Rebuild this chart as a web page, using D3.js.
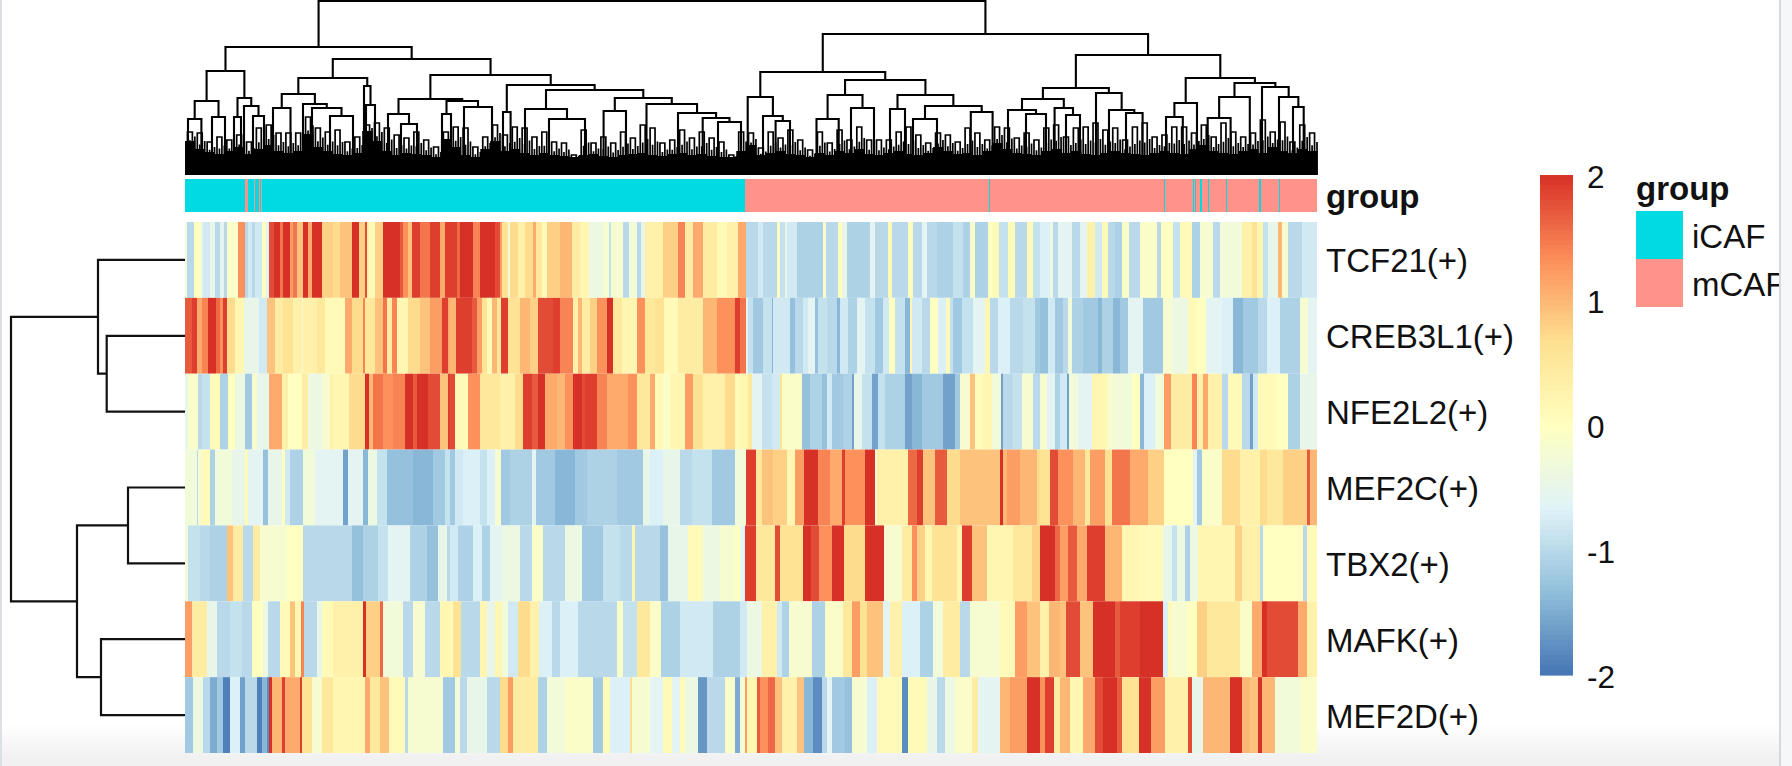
<!DOCTYPE html>
<html><head><meta charset="utf-8">
<script src="https://cdn.jsdelivr.net/npm/d3@7"></script>
<style>html,body{margin:0;padding:0;background:#fff;overflow:hidden}svg{display:block}text{font-family:"Liberation Sans",Arial,sans-serif;fill:#111}</style>
</head><body><svg id="c" width="1792" height="766"></svg>
<script>
const NCOL = 1132;
const rowNames = ["TCF21(+)","CREB3L1(+)","NFE2L2(+)","MEF2C(+)","TBX2(+)","MAFK(+)","MEF2D(+)"];
const legendTicks = [2,1,0,-1,-2];
const groupLabels = ["iCAF","mCAF"];
const groupColors = ["#00DAE0","#FF9289"];
const palette = ["#4575B4","#91BFDB","#E0F3F8","#FFFFBF","#FEE090","#FC8D59","#D73027"];
const paletteStops = [-2,-1.33,-.67,0,.67,1.33,2];
// where each sample block of a row begins
const chunkStarts = [-185,265,555,855];
// [end, value, end, value ...] per row and block
const tcf21A=[562,-.3,582,-1,603,0,610,-.5,630,-.8,645,-.5,660,-1,672,-.6,682,-1,715,-.1,735,1.3,745,-1,755,-.8,765,-1,785,-.8,798,0,807,-.6,822,1.8,840,2,850,1.5,870,2,880,1.2,892,1.5,908,.9,925,2,935,1.1,965,2,1000,.8,1020,.7,1056,.9,1078,2,1095,.8,1100,1.8,1108,.3,1125,.1,1148,.8,1200,2,1210,1.7,1225,1.3,1235,.9,1260,1.9,1290,1.5,1320,1.9,1336,1.1,1350,1.9,1360,1.5,1380,2];
const tcf21B=[20,1.9,30,1.6,70,2,90,1.4,135,2,150,1.8,155,1.2,175,.6,180,-.3,205,.7,225,.3,250,.7,258,1.1,275,.5,290,.1,330,.8,365,1,390,.4,418,.2,460,-.4,478,-.2,483,-.9,518,-.2,538,-1,560,-.3,572,-1,585,-.5,640,.3,685,.8,705,1.4,730,.4,760,1.1,800,.4,830,.1,863,.3,885,1.1,900,-1,910,-.9,960,-1];
const tcf21C=[17,1.1,55,-1,70,-.8,112,-1,120,0,135,-.9,140,-.5,170,-.8,250,-1.1,258,-.1,295,-1,305,0,320,-.5,390,-1.1,405,-.6,445,-1,455,.1,505,-1,520,0,545,-1,560,-.6,590,-1,640,-1.1,670,-.9,690,-1.1,705,-.1,745,-1.1,760,0,778,.1,805,-.9,825,.1,860,-1,878,.1,930,-.9,938,-.2,960,-1];
const tcf21D=[30,-.7,40,-.4,55,-1,95,-.6,120,-1,140,-.6,165,.3,185,-.8,205,.1,225,-1,245,-1.1,268,-.1,300,-1,350,-.1,362,-1,400,0,420,-.9,455,.1,480,-1.1,518,-.2,540,-1,605,-.3,635,.3,650,.6,668,.2,685,-.9,715,-.5,725,1,745,-.2,785,-1,830,-.8];
const creb3l1A=[575,1.7,590,1.9,605,1.1,625,1.4,648,2,660,1.6,668,1.3,682,1.9,705,.7,732,.2,778,-.5,802,-.8,825,.9,850,.4,880,.6,905,.3,908,-.3,950,.3,975,.5,1035,.1,1056,1.1,1090,.7,1095,1.4,1125,.5,1150,.9,1162,1.5,1175,.4,1190,1.4,1225,.2,1260,.7,1290,.9,1325,1.2,1345,1.9,1368,1.1,1380,1.9];
const creb3l1B=[18,1,65,1.9,80,1.7,95,1.2,110,.6,125,.1,140,1,153,.5,175,1.9,210,.6,240,1,265,.8,310,1.8,330,1.9,368,1.4,385,.3,395,1,420,.4,440,.8,470,1.3,490,2,515,.5,560,.2,585,1.3,615,.5,643,.6,685,.1,760,.4,800,1,855,1.3,870,1.9,885,1.4,905,-.6,935,-1,950,-1.3,960,-.7];
const creb3l1C=[17,1.5,25,-.6,40,-.9,70,-1.2,95,-.9,100,-1.4,150,-.8,165,-1.3,190,-1,205,-.8,225,-.6,235,-1.3,260,-.9,290,-1,300,-1.4,325,-.8,350,-1.1,375,-.6,405,-.9,430,-1.2,448,-.8,465,0,495,-.9,510,-1.4,517,.2,545,-.8,570,-1,595,0,618,-.7,630,.1,640,-.9,665,-1.2,700,-.9,735,-.6,750,.2,775,-1,810,-.7,850,-1,885,-.9,905,-1.2,930,-1.1,960,-1];
const creb3l1D=[25,-1.3,45,-.8,70,-1.2,85,-1,95,-.3,130,-1.1,175,-1.2,185,-1.4,220,-1.1,240,-1.4,265,-1.2,310,-.6,370,-1.2,395,-.2,445,-.4,470,.1,497,0,545,-.6,580,-.7,610,-1.4,655,-1.2,680,-1,720,-.7,780,-1.1,805,-.2,830,-.6];
const nfe2l2A=[565,-.5,595,-.1,605,-1,630,-.9,660,.1,685,-1.1,705,0,735,-.4,755,-1.2,770,-.2,808,-.5,845,1.1,865,.3,905,0,925,.4,965,-.4,990,-.2,1000,.3,1048,.2,1095,.7,1108,2,1120,1,1148,1.5,1180,1.3,1215,1.4,1240,2,1250,1.7,1285,2,1320,1.8,1345,.9,1365,1.9,1380,.3];
const nfe2l2B=[15,1.8,55,.1,90,1.3,150,.5,195,.3,220,.7,245,1.9,265,1.7,285,2,320,1.1,345,1,370,1.3,395,2,405,1.8,440,1.9,470,1.4,535,1.1,560,1.3,600,.5,615,1.1,640,.1,660,-.1,705,.2,730,1.2,760,.6,825,.3,855,.7,895,.1,907,.3,935,-.6,960,-1];
const nfe2l2C=[25,.2,37,.5,65,-.6,95,-.9,120,-.8,125,.6,185,-.1,210,-1.3,245,-1.1,260,-1.3,275,-.8,310,-1.2,335,-1.1,342,-1.6,365,-.5,395,-.9,415,-1.6,435,-.9,495,-1.1,515,-1.6,545,-1.4,610,-1.2,645,-1.6,660,-1.2,690,-.2,705,.9,730,.1,755,.2,782,-.3,790,-1.6,820,-1,845,-.9,880,-.2,920,-1,940,-.6,960,-1.1];
const nfe2l2D=[20,-.2,45,-.6,60,-1.1,80,-.8,88,-1.6,115,-.3,155,-.6,200,.2,220,-.2,275,-.3,300,0,312,-1.4,345,-.7,372,-.3,392,1.2,455,.4,470,1.4,490,.3,505,1.1,545,.3,565,-1,605,.1,630,-1,640,-1.6,655,-.8,710,.1,745,0,780,-1.1,830,-.5];
const mef2cA=[590,-.3,595,-1,605,-.2,630,.1,645,-1.1,695,-.3,735,-.5,745,.1,790,-.6,805,-1.3,845,-.5,855,0,870,-.8,910,-1.1,945,-.3,1030,-.6,1045,-1.6,1090,-.6,1105,-1.4,1130,-.4,1160,-.9,1240,-1.3,1300,-1.4,1335,-1.2,1365,-.9,1380,-1.1];
const mef2cB=[15,-1.2,40,-.8,90,-.7,110,-.9,135,-.7,152,-.2,180,-1.2,245,-1.1,258,-.6,315,-1.2,375,-1.4,410,-1.2,500,-1.1,580,-1.2,600,-.5,640,-.7,690,-.5,725,-1,785,-.9,855,-1.2,885,-.3,895,1.3,918,1.9,940,.3,960,.9];
const mef2cC=[17,-.3,48,1.9,65,.5,100,.9,140,.8,165,.2,193,1.2,235,2,270,1.4,305,1.1,315,1.9,375,1.3,405,2,412,-.2,505,.3,530,1.6,550,1.9,585,.9,620,1.7,660,.7,780,.9,790,2,800,1,840,1.2,890,1,940,.7,960,2];
const mef2cD=[30,.6,55,1.8,100,1.3,135,1,150,.5,195,1.2,215,.6,270,1.5,325,1.1,372,.8,460,0,472,-.6,487,-1.2,545,-.1,600,.7,660,.3,680,.7,730,.5,800,.8,810,1.7,830,1];
const tbx2A=[565,-.3,600,-.9,630,-1,680,-1.1,700,.9,730,.4,760,-1,780,.4,860,-.2,910,0,1055,-1,1090,-1.3,1135,-1.1,1165,-.9,1230,-.6,1280,-1.1,1315,-1.3,1340,-.5,1380,-1];
const tbx2B=[25,-.8,70,-1.1,95,-.7,120,-1.1,155,-.6,210,-.4,245,-1,280,-.1,345,-1,395,-.4,460,-1.2,510,-.9,545,-1,555,.2,630,-1,655,-1.3,715,-.5,760,.1,810,-.4,855,-.2,875,0,885,-1,905,2,918,1.7,960,.5];
const tbx2C=[15,-.6,48,1.9,105,.5,120,1.8,190,.6,212,2,238,1.8,275,1.3,312,2,375,.7,433,2,485,-.2,515,.4,530,1.3,555,.8,575,.2,650,.6,665,.2,697,1.9,740,.9,820,.2,875,.5,905,.8,960,1.9];
const tbx2D=[45,2,60,1.6,85,1.2,110,1.7,140,1.1,195,1.9,245,1,295,.2,370,.1,395,-.5,410,-.9,435,-.4,450,-1.1,475,-.4,585,.2,605,.8,660,.3,670,-1,790,0,800,-1,830,.1];
const mafkA=[575,1.2,620,.4,650,-.5,690,-1,725,-.9,755,-1,790,0,805,-.4,840,-1,870,.1,885,.9,903,.2,913,1.4,950,-1,965,-.5,1000,.1,1090,.3,1097,2,1140,.8,1150,1.6,1210,-.3,1240,-1,1275,-.2,1320,-1,1380,.2];
const mafkB=[10,.1,33,.6,90,-1,110,.2,135,-.5,155,.2,175,-.3,205,-.8,240,.7,268,.3,305,-.7,330,-1,385,-.7,500,-1,520,-.1,562,-.9,600,.5,632,-.1,690,-1.1,790,-.8,885,-1.1,895,-.6,920,-.1,938,-.3,960,.4];
const mafkC=[22,-.8,65,-.4,110,.3,125,-.8,148,-1.1,215,-.2,255,-1.1,310,-.1,335,.5,360,1.2,380,.6,430,.9,450,-.6,485,.3,540,-.7,580,-1.1,610,-.3,660,.4,690,-1,780,-.2,825,.1,860,1.2,900,.9,930,.3,960,1.2];
const mafkD=[28,.3,60,1,78,.9,120,1.8,160,.9,225,2,240,1.7,300,1.9,370,2,385,-.7,395,.1,440,-.2,470,0,500,.8,600,.5,635,-.1,665,1.1,680,2,775,1.8,800,1.1,830,.3];
const mef2dA=[580,-1.2,610,-.4,630,-1,650,-1.5,670,-1.2,690,-1.9,720,-.7,735,-1.6,770,-1,785,-1.9,800,-1.4,808,-1.8,816,2,845,1,855,1.9,900,1.1,905,1.9,935,.6,965,-.2,1000,.5,1095,.2,1110,1.1,1140,.5,1168,.9,1215,.1,1225,-1,1330,-.2,1370,-1.2,1380,-.9];
const mef2dB=[15,-1.2,30,-.3,50,-1,110,-.5,150,-1,175,.7,190,1.2,265,.4,290,-1.1,345,-.3,430,-.1,460,-1.2,480,.1,540,-.7,545,.7,600,-.2,640,-.6,665,.1,690,-.6,705,.1,745,-.4,770,-1.7,825,-1,855,-.1,870,-1.5,885,-.3,920,.6,930,1.8,960,1.5];
const mef2dC=[15,-.3,22,1.2,50,.2,60,1.7,85,1.3,105,1.6,125,.9,170,.3,193,.9,220,-1.4,245,-1.8,260,-1,275,-.6,315,-1.2,335,-1.3,380,-.2,410,-.7,485,.1,503,-1.8,560,.1,590,-.5,615,-1,645,-.4,695,-.1,715,.4,780,-.6,810,1,860,1.2,900,2,920,1.2,943,1.9,960,.4];
const mef2dD=[15,1.3,42,1.9,60,.4,90,1,130,.2,165,1.1,188,1.8,230,2,245,1.7,298,.6,333,2,375,1.2,445,.3,455,1.8,490,-.5,570,1,605,2,630,1,655,.9,665,2,705,1,780,-.3,830,-.1];
const rowChunks = [[tcf21A,tcf21B,tcf21C,tcf21D],[creb3l1A,creb3l1B,creb3l1C,creb3l1D],[nfe2l2A,nfe2l2B,nfe2l2C,nfe2l2D],[mef2cA,mef2cB,mef2cC,mef2cD],[tbx2A,tbx2B,tbx2C,tbx2D],[mafkA,mafkB,mafkC,mafkD],[mef2dA,mef2dB,mef2dC,mef2dD]];
// [last column, group index] runs of the annotation bar
const groupRuns=[60,0,63,1,69,0,70,1,74,0,75,1,76,0,77,1,560,0,804,1,805,0,979,1,980,0,1008,1,1009,0,1010,1,1011,0,1015,1,1017,0,1023,1,1024,0,1041,1,1042,0,1074,1,1076,0,1094,1,1095,0,1132,1];
// column dendrogram: [height, left, right], a bare number is a lower branch at that column
const colTree=[174,
 [128,
  [104,
   [74,[56,3,16.4],[58,27,40]],
   [77,[58,49,56],[69,59,[59,68,79]]]],
  [116,
   [97,
    [81,[67,88,105.5],[71,118,[67,127,[59,145,168]]]],
    [89,179,[70,181,190]]],
   [100,
    [76,[61,203,[51,216,232]],[74,[61,257,266],[68,279,307]]],
    [90,[63,318,325.6],
     [85,
      [66,340,[56,364,400]],
      [77,[64,418.6,441],[71,461.5,[62,493,[57,517.7,[53,533,556]]]]]]]]]],
 [141,
  [103,
   [78,562.7,[59,578,[54,590.6,605]]],
   [95,
    [80,[56,631.5,653.7],[67,666,689]],
    [80,[66,705,720],[69,[56,728,752],[63,785.8,807.6]]]]],
  [120,
   [87,
    [76,[65,823,[61,841,861]],[67,869.6,[60,881,895]]],
    [82,911,[65,924,[62,941,957.6]]]],
   [97,
    [72,[58,981,997.8],1012],
    [92,
     [78,[57,1022.7,1045.6],1064.8],
     [88,1077,[78,1094,[68,1108,1118.7]]]]]]]];
// heights of the small end loops, left to right
const tipHeights=[43,42,33,38,35,40,33,47,50,42,42,42,58,47,43,45,33,38,50,52,47,40,37,43,35,28,43,48,47,28,38,50,40,48,47,38,43,33,32,20,45,32,38,32,43,37,50,47,32,35,45,37,43,37,33,20,43,
 42,27,43,37,45,35,25,43,32,45,35,48,35,35,35,43,48,40,32,42,40,33,47,42,35,48,47,37,42,35,47,50,38,47,48,52,45,47,35,48,52,38,40,48,48,42,50,38,52,43,38,42,55,43,53,33,50,42];
// height of the solid black mass, left to right
const massHeights=[34,26,23,21,24,28,21,26,30,24,22,24,41,28,24,21,20,22,44,34,24,20,22,21,20,18,36,28,20,18,26,34,24,26,22,20,22,20,19,18,20,21,19,18,20,21,22,20,19,21,22,20,21,19,18,18,24,
 30,20,22,24,21,20,18,22,20,24,22,26,21,20,22,24,21,20,22,28,24,21,22,20,24,32,26,22,21,20,24,26,22,24,21,20,22,24,22,21,20,22,24,22,21,26,30,24,22,21,24,26,22,28,24,22,26,24];
// row dendrogram: [height, upper, lower], a bare number is a row index
const rowTree=[174,[87,0,[78.3,1,2]],[108,[57,3,4],[84,5,6]]];

const svg=d3.select("#c");
const defs=svg.append("defs");
const bg=defs.append("linearGradient").attr("id","fade").attr("x1",0).attr("x2",0).attr("y1",0).attr("y2",1);
bg.append("stop").attr("offset",0).attr("stop-color","#fff");
bg.append("stop").attr("offset",1).attr("stop-color","#f1f1f1");
svg.append("rect").attr("x",0).attr("y",724).attr("width",1792).attr("height",34).attr("fill","url(#fade)");
svg.append("rect").attr("x",0).attr("y",757).attr("width",1792).attr("height",9).attr("fill","#f1f1f1");

const color=d3.scaleLinear().domain(paletteStops).range(palette).clamp(true);
const xCol=d3.scaleBand().domain(d3.range(NCOL)).range([185,1317]);
const xPos=d3.scaleLinear().domain([0,NCOL]).range([185,1317]);
const yRow=d3.scaleBand().domain(rowNames).range([222,753]);

function expand(chunks){
  const v=new Array(NCOL).fill(0);
  chunks.forEach((c,i)=>{
    let s=i===0?555:0;
    for(let k=0;k<c.length;k+=2){
      const from=Math.max(0,Math.round(chunkStarts[i]+s/3)),to=Math.min(NCOL,Math.round(chunkStarts[i]+c[k]/3));
      for(let q=from;q<to;q++)v[q]=c[k+1];
      s=c[k];
    }
  });
  return v;
}
function runs(v){
  const out=[];let st=0;
  for(let i=1;i<=v.length;i++)if(i===v.length||v[i]!==v[st]){out.push({start:st,len:i-st,value:v[st]});st=i;}
  return out;
}
const blurG=svg.append("g").style("filter","blur(0.55px)");
rowNames.forEach((name,r)=>{
  blurG.append("g").selectAll("rect").data(runs(expand(rowChunks[r]))).join("rect")
    .attr("x",d=>xCol(d.start)).attr("width",d=>xCol.bandwidth()*d.len)
    .attr("y",yRow(name)).attr("height",yRow.bandwidth()).attr("fill",d=>color(d.value));
});
const groups=new Array(NCOL);
{let s=0;for(let k=0;k<groupRuns.length;k+=2){for(let q=s;q<groupRuns[k];q++)groups[q]=groupRuns[k+1];s=groupRuns[k];}}
blurG.append("g").selectAll("rect").data(runs(groups)).join("rect")
  .attr("x",d=>xCol(d.start)).attr("width",d=>xCol.bandwidth()*d.len)
  .attr("y",179).attr("height",33).attr("fill",d=>groupColors[d.value]);

// column dendrogram
const yTop=d3.scaleLinear().domain([0,174]).range([175,1]);
const topG=svg.append("g").style("filter","blur(0.4px)");
const topPath=d3.path();
function layout(n){
  if(typeof n==="number")return{x:n,h:0};
  const a=layout(n[1]),b=layout(n[2]);
  topPath.moveTo(xPos(a.x),yTop(a.h));topPath.lineTo(xPos(a.x),yTop(n[0]));
  topPath.lineTo(xPos(b.x),yTop(n[0]));topPath.lineTo(xPos(b.x),yTop(b.h));
  return{x:(a.x+b.x)/2,h:n[0]};
}
layout(colTree);
const pairStep=NCOL/tipHeights.length;
const tipPath=d3.path();
tipHeights.forEach((h,i)=>{
  const c=(i+.5)*pairStep,w=pairStep/4;
  tipPath.moveTo(xPos(c-w),yTop(0));tipPath.lineTo(xPos(c-w),yTop(h));tipPath.lineTo(xPos(c+w),yTop(h));tipPath.lineTo(xPos(c+w),yTop(0));
  const m=(h+massHeights[i])/2;
  tipPath.moveTo(xPos(c+w*2),yTop(0));tipPath.lineTo(xPos(c+w*2),yTop(m));
  tipPath.moveTo(xPos(c),yTop(0));tipPath.lineTo(xPos(c),yTop(m*.9));
});
topG.append("path").attr("d",tipPath.toString()).attr("fill","none").attr("stroke","#000").attr("stroke-width",1.7);
topG.append("path").attr("d",topPath.toString()).attr("fill","none").attr("stroke","#000").attr("stroke-width",2.1);
topG.append("g").selectAll("rect").data(massHeights).join("rect")
  .attr("x",(d,i)=>xPos(i*pairStep)).attr("width",xPos(pairStep)-xPos(0)+.5)
  .attr("y",d=>yTop(d)).attr("height",d=>yTop(0)-yTop(d)).attr("fill","#000");

// row dendrogram
const xLeft=d3.scaleLinear().domain([0,174]).range([185,11]);
const leftPath=d3.path();
function layoutRow(n){
  if(typeof n==="number")return{y:yRow(rowNames[n])+yRow.bandwidth()/2,h:0};
  const a=layoutRow(n[1]),b=layoutRow(n[2]);
  leftPath.moveTo(xLeft(a.h),a.y);leftPath.lineTo(xLeft(n[0]),a.y);
  leftPath.lineTo(xLeft(n[0]),b.y);leftPath.lineTo(xLeft(b.h),b.y);
  return{y:(a.y+b.y)/2,h:n[0]};
}
layoutRow(rowTree);
svg.append("path").attr("d",leftPath.toString()).attr("fill","none").attr("stroke","#111").attr("stroke-width",2.2).style("filter","blur(0.4px)");

// labels
svg.append("g").selectAll("text").data(rowNames).join("text")
  .attr("x",1326).attr("y",d=>yRow(d)+yRow.bandwidth()/2+12.5).attr("font-size",33).text(d=>d);
svg.append("text").attr("x",1326).attr("y",208).attr("font-size",33).attr("font-weight","bold").text("group");

// colour bar
const yBar=d3.scaleLinear().domain([2,-2]).range([175,675]);
const barSteps=d3.range(100).map(i=>2-i*4/100);
svg.append("g").selectAll("rect").data(barSteps).join("rect")
  .attr("x",1540).attr("width",33).attr("y",d=>yBar(d)).attr("height",yBar(0)-yBar(4/100)+.6)
  .attr("fill",d=>color(d-.02));
svg.append("g").selectAll("text").data(legendTicks).join("text")
  .attr("x",1587).attr("y",d=>yBar(d)+12.5).attr("font-size",31.5).text(d=>d);

// group legend
svg.append("text").attr("x",1636).attr("y",200).attr("font-size",33).attr("font-weight","bold").text("group");
const yLeg=d3.scaleBand().domain(groupLabels).range([211,307]);
svg.append("g").selectAll("rect").data(groupLabels).join("rect")
  .attr("x",1636).attr("width",47).attr("y",d=>yLeg(d)).attr("height",yLeg.bandwidth()).attr("fill",(d,i)=>groupColors[i]);
svg.append("g").selectAll("text").data(groupLabels).join("text")
  .attr("x",1692).attr("y",d=>yLeg(d)+yLeg.bandwidth()/2+12.5).attr("font-size",33).text(d=>d);

// window edges
svg.append("rect").attr("x",0).attr("y",0).attr("width",2).attr("height",766).attr("fill","#dce0e5");
svg.append("rect").attr("x",1779).attr("y",0).attr("width",13).attr("height",766).attr("fill","#f6f7f9");
svg.append("rect").attr("x",1779).attr("y",0).attr("width",2).attr("height",766).attr("fill","#d5d9df");
</script></body></html>
